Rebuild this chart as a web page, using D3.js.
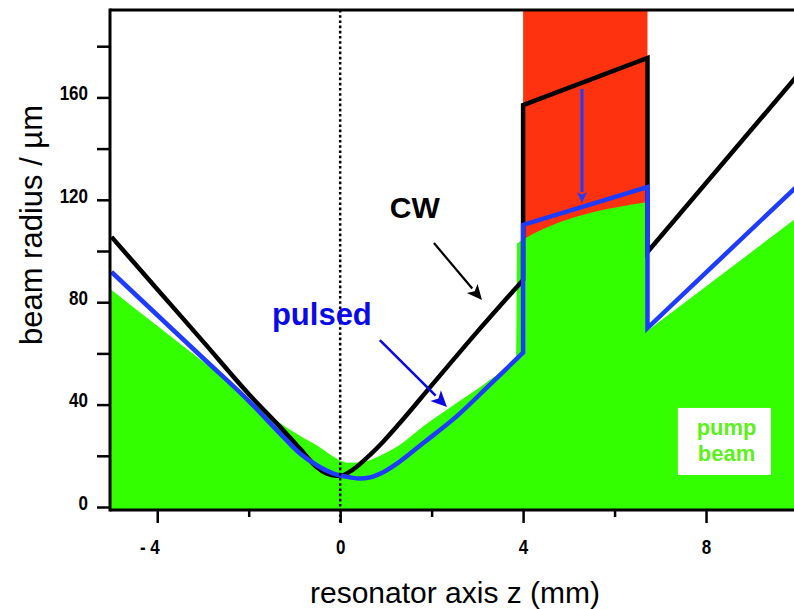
<!DOCTYPE html>
<html>
<head>
<meta charset="utf-8">
<script src="https://cdn.jsdelivr.net/npm/d3@7"></script>
<style>
  html, body { margin: 0; padding: 0; background: #fff; }
  svg { display: block; }
  text { font-family: "Liberation Sans", Arial, sans-serif; }
</style>
</head>
<body>
<svg id="chart" width="794" height="609"></svg>
<script>
// ---- beam radius along the resonator axis (z in mm, radius in µm) ----
// CW mode
const cwZ = [-5, -4, -3, -1.98, -1.32, -0.885, -0.52, -0.3, -0.08, 0.03, 0.21, 0.57, 0.94, 1.3, 2, 3, 4, 4, 6.72, 6.72, 10];
const cwW = [105.5, 85.1, 64.7, 43.75, 31.4, 22.9, 15.7, 13.1, 12.2, 12.3, 13.8, 19, 25.5, 32.7, 47.5, 68.5, 88.7, 157, 175.4, 99.6, 168.6];

// pulsed mode
const pulsedZ = [-5, -4, -3, -1.98, -1.25, -0.885, -0.52, -0.157, 0.21, 0.43, 0.64, 0.94, 1.3, 1.81, 2.54, 3.27, 4, 4, 6.72, 6.72, 10];
const pulsedW = [91.8, 75, 58.2, 41.1, 27.5, 21, 16.4, 13.1, 11.6, 11.1, 11.5, 13.6, 17.7, 24.9, 35.3, 47.7, 60.3, 110.2, 125, 69.9, 125.5];

// pump beam
const pumpZ = [-5, -4, -3, -2.68, -2.2, -1.8, -1.25, -0.8, -0.52, -0.16, 0.03, 0.21, 0.57, 0.94, 1.3, 1.81, 2.54, 3.27, 3.85, 3.87, 6.74, 6.74, 10];
const pumpW = [84.8, 70.8, 56.8, 52.3, 45.5, 39.5, 32, 27, 24.2, 19.8, 17.9, 17.3, 17.9, 20.6, 24.2, 31.4, 40.5, 49.6, 58.6, 103, 119.1, 69.1, 113.2];

// crystal region (z range)
const crystalZ = [4, 6.72];

// axis ticks
const zMajor = [-4, 0, 4, 8];
const zLabels = ["- 4", "0", "4", "8"];
const zMinor = [-2, 2, 6];
const wMajor = [0, 40, 80, 120, 160];
const wMinor = [20, 60, 100, 140, 180];

// ---- layout ----
const svg = d3.select("#chart");
const mLeft = 110, mTop = 10, mBottom = 510, mRight = 794;
const labelStretch = 1.15;   // tick labels are drawn a little taller than wide

const x = d3.scaleLinear().domain([-5, 10]).range([111.5, 797.5]);
const y = d3.scaleLinear().domain([0, 194]).range([507, 10.36]);

const C = {
  green: "#33ff00",
  red: "#ff3210",
  blue: "#1e3cff",
  blueText: "#0a0ae6",
  pumpText: "#5cf01c"
};

svg.append("defs").append("clipPath").attr("id", "plot-clip")
  .append("rect").attr("x", mLeft).attr("y", mTop)
  .attr("width", mRight - mLeft).attr("height", mBottom - mTop);

const plot = svg.append("g").attr("clip-path", "url(#plot-clip)");

const toPts = (zs, ws) => zs.map((z, i) => [z, ws[i]]);

// smooth part up to the first step (repeated z), straight segments after it
function stepPath(pts) {
  let k = pts.findIndex((p, i) => i < pts.length - 1 && p[0] === pts[i + 1][0]);
  if (k < 0) k = pts.length - 1;
  const smooth = d3.line().x(d => x(d[0])).y(d => y(d[1])).curve(d3.curveMonotoneX);
  const straight = d3.line().x(d => x(d[0])).y(d => y(d[1]));
  let p = smooth(pts.slice(0, k + 1));
  if (k < pts.length - 1) p += straight(pts.slice(k)).replace(/^M/, "L");
  return p;
}

// red crystal band
plot.append("rect")
  .attr("x", x(crystalZ[0]))
  .attr("y", mTop)
  .attr("width", x(crystalZ[1]) - x(crystalZ[0]))
  .attr("height", y(90) - mTop)
  .attr("fill", C.red);

// pump beam area
const pumpPts = toPts(pumpZ, pumpW);
const pumpTop = stepPath(pumpPts);
plot.append("path")
  .attr("d", pumpTop + `L${x(pumpZ[pumpZ.length - 1])},${mBottom}L${x(pumpZ[0]) - 2},${mBottom}L${x(pumpZ[0]) - 2},${y(pumpW[0])}Z`)
  .attr("fill", C.green);

// dotted line at z = 0
svg.append("line")
  .attr("x1", x(0)).attr("x2", x(0))
  .attr("y1", mTop).attr("y2", mBottom + 13)
  .attr("stroke", "#000").attr("stroke-width", 2.5)
  .attr("stroke-dasharray", "2.6,2.6");

// CW and pulsed beam radius
plot.append("path")
  .attr("d", stepPath(toPts(cwZ, cwW)))
  .attr("fill", "none").attr("stroke", "#000")
  .attr("stroke-width", 4.5).attr("stroke-linejoin", "miter");

plot.append("path")
  .attr("d", stepPath(toPts(pulsedZ, pulsedW)))
  .attr("fill", "none").attr("stroke", C.blue)
  .attr("stroke-width", 4.5).attr("stroke-linejoin", "miter");

// ---- axes ----
function styleAxis(g) {
  g.select(".domain").remove();
  g.selectAll(".tick line").attr("stroke", "#000").attr("stroke-width", 2.5);
  g.selectAll(".tick text")
    .attr("fill", "#000")
    .attr("transform", `scale(1,${labelStretch})`)
    .style("font-size", "17px")
    .style("font-weight", "bold");
}

svg.append("g")
  .attr("transform", `translate(${mLeft},0)`)
  .call(d3.axisLeft(y).tickValues(wMinor).tickSize(13).tickFormat(""))
  .call(styleAxis);
svg.append("g")
  .attr("transform", `translate(${mLeft},0)`)
  .call(d3.axisLeft(y).tickValues(wMajor).tickSize(13).tickPadding(9).tickFormat(d => d))
  .call(styleAxis)
  .call(g => g.selectAll(".tick text").attr("dy", "0.12em"));

svg.append("g")
  .attr("transform", `translate(0,${mBottom})`)
  .call(d3.axisBottom(x).tickValues(zMinor).tickSize(7).tickFormat(""))
  .call(styleAxis);
svg.append("g")
  .attr("transform", `translate(0,${mBottom})`)
  .call(d3.axisBottom(x).tickValues(zMajor).tickSize(13).tickPadding(13)
    .tickFormat((d, i) => zLabels[i]))
  .call(styleAxis)
  .call(g => g.selectAll(".tick text")
    .filter(d => d < 0)
    .attr("text-anchor", "end")
    .attr("dx", 2));

// frame lines
const frame = svg.append("g").attr("stroke", "#000").attr("stroke-width", 3);
frame.append("line").attr("x1", mLeft).attr("x2", mLeft).attr("y1", mTop - 1.5).attr("y2", mBottom + 1.5);
frame.append("line").attr("x1", mLeft).attr("x2", mRight).attr("y1", mTop).attr("y2", mTop);
frame.append("line").attr("x1", mLeft).attr("x2", mRight).attr("y1", mBottom).attr("y2", mBottom);

// ---- annotations ----
function arrow(z1, w1, z2, w2, color, width, headLen, headHalf) {
  const x1 = x(z1), y1 = y(w1), x2 = x(z2), y2 = y(w2);
  const a = Math.atan2(y2 - y1, x2 - x1);
  const bx = x2 - headLen * Math.cos(a), by = y2 - headLen * Math.sin(a);
  svg.append("line")
    .attr("x1", x1).attr("y1", y1).attr("x2", bx).attr("y2", by)
    .attr("stroke", color).attr("stroke-width", width);
  const nx = -Math.sin(a) * headHalf, ny = Math.cos(a) * headHalf;
  svg.append("path")
    .attr("d", `M${x2},${y2}L${bx + nx},${by + ny}L${bx + headLen * 0.25 * Math.cos(a)},${by + headLen * 0.25 * Math.sin(a)}L${bx - nx},${by - ny}Z`)
    .attr("fill", color);
}

arrow(2.05, 103.1, 3.10, 80.9, "#000", 2.2, 15, 7);
arrow(0.868, 65.2, 2.335, 39.1, C.blueText, 2.6, 16, 7.5);
arrow(5.288, 163.3, 5.288, 118.75, C.blue, 3, 11, 5);

svg.append("text")
  .attr("x", x(1.63)).attr("y", y(112.9))
  .attr("text-anchor", "middle")
  .style("font-size", "30px").style("font-weight", "bold")
  .attr("fill", "#000")
  .text("CW");

svg.append("text")
  .attr("x", x(-0.4)).attr("y", y(71.1))
  .attr("text-anchor", "middle")
  .style("font-size", "31px").style("font-weight", "bold")
  .attr("fill", C.blueText)
  .text("pulsed");

// pump beam label
svg.append("rect")
  .attr("x", x(7.385)).attr("y", y(38.7))
  .attr("width", x(9.42) - x(7.385)).attr("height", y(12.5) - y(38.7))
  .attr("fill", "#fff");
svg.append("text")
  .attr("x", x(8.45)).attr("y", y(28.1))
  .attr("text-anchor", "middle")
  .style("font-size", "22px").style("font-weight", "bold")
  .attr("fill", C.pumpText)
  .text("pump");
svg.append("text")
  .attr("x", x(8.45)).attr("y", y(18))
  .attr("text-anchor", "middle")
  .style("font-size", "22px").style("font-weight", "bold")
  .attr("fill", C.pumpText)
  .text("beam");

// axis titles
svg.append("text")
  .attr("transform", "translate(42,225) rotate(-90)")
  .attr("text-anchor", "middle")
  .style("font-size", "31px")
  .attr("fill", "#000")
  .text("beam radius / µm");

svg.append("text")
  .attr("x", 455).attr("y", 603)
  .attr("text-anchor", "middle")
  .style("font-size", "30px")
  .attr("fill", "#000")
  .text("resonator axis z (mm)");
</script>
</body>
</html>
